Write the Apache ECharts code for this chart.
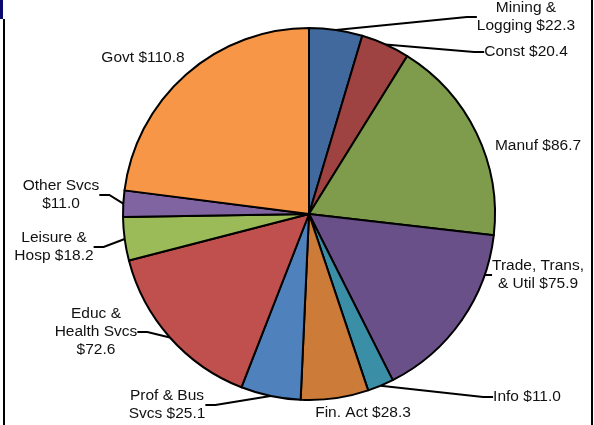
<!DOCTYPE html>
<html>
<head>
<meta charset="utf-8">
<script src="https://cdn.jsdelivr.net/npm/echarts@6/dist/echarts.min.js"></script>
<style>
  html, body { margin: 0; padding: 0; background: #fff; }
  #pieGraph { width: 594px; height: 425px; }
</style>
</head>
<body>
<div id="pieGraph"></div>
<script>
// sector names (line breaks as on the slide) and values, $ billions
var categories = ['Mining &\nLogging', 'Const', 'Manuf', 'Trade, Trans,\n& Util', 'Info', 'Fin. Act',
    'Prof & Bus\nSvcs', 'Educ &\nHealth Svcs\n', 'Leisure &\nHosp', 'Other Svcs\n', 'Govt']
var values = [22.3, 20.4, 86.7, 75.9, 11.0, 28.3, 25.1, 72.6, 18.2, 11.0, 110.8]
var colors = ['#41699e', '#9e4341', '#7e9c4b', '#6a5089', '#3a8fa7', '#cd7b38',
    '#4f81bd', '#c0504d', '#9bbb59', '#8064a2', '#f79646']

// where each label sits (centre of the text block)
var labelPos = [
    [526, 17], [526, 52], [538, 146], [538, 275], [527, 397], [363, 413],
    [167, 405], [96, 332], [54, 247], [61, 195], [143, 58]
]
var noLine = { 2: true, 5: true, 10: true }

function getPieChart(ele){
    var chart = echarts.init(ele)
    var pieData = []
    values.forEach(function(v, i){
        pieData.push({
            value: v,
            name: categories[i],
            itemStyle: { color: colors[i] },
            labelLine: { show: !noLine[i] }
        })
    })

    var option = {
        animation: false,
        graphic: [
            { type: 'rect', shape: { x: 0, y: 0, width: 3, height: 19 }, style: { fill: '#0a0a6e' } },
            { type: 'rect', shape: { x: 3, y: 19, width: 2, height: 406 }, style: { fill: '#000' } },
            { type: 'rect', shape: { x: 591, y: 0, width: 2, height: 425 }, style: { fill: '#000' } }
        ],
        series: [
            {
                type: 'pie',
                center: [309, 214],
                radius: 186,
                startAngle: 90,
                clockwise: true,
                data: pieData,
                silent: true,
                itemStyle: { borderColor: '#000', borderWidth: 2 },
                label: {
                    show: true,
                    color: '#111',
                    fontFamily: 'Liberation Sans, Arial, sans-serif',
                    fontSize: 15.5,
                    lineHeight: 18,
                    align: 'center',
                    formatter: function(p){
                        var sep = p.name.charAt(p.name.length - 1) === '\n' ? '' : ' '
                        return p.name + sep + '$' + p.value.toFixed(1)
                    }
                },
                labelLine: {
                    show: true,
                    length: 10,
                    length2: 10,
                    lineStyle: { color: '#000', width: 2 }
                },
                labelLayout: function(params){
                    var pos = labelPos[params.dataIndex]
                    return { x: pos[0], y: pos[1], align: 'center', verticalAlign: 'middle' }
                }
            }
        ]
    }
    chart.setOption(option)
}

getPieChart(document.getElementById('pieGraph'))
</script>
</body>
</html>
